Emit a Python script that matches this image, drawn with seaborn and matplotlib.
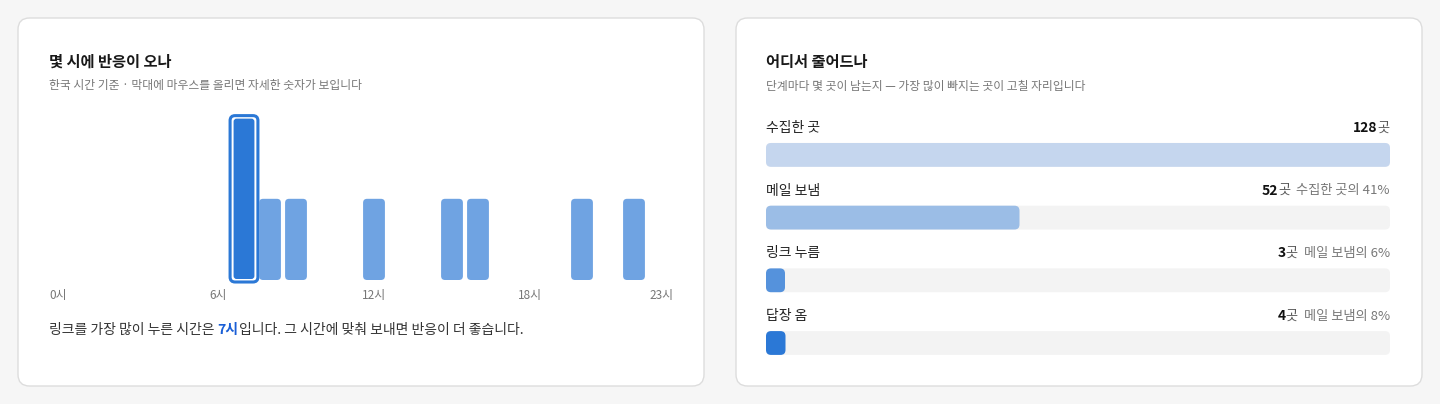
import matplotlib
matplotlib.use("Agg")
import matplotlib.pyplot as plt
import seaborn as sns
import pandas as pd
from matplotlib.patches import FancyBboxPatch
from matplotlib.transforms import IdentityTransform

sns.set_theme(style="white")
plt.rcParams['font.family'] = ['Noto Sans CJK KR', 'DejaVu Sans']

hours = list(range(24))
clicks = [0,0,0,0,0,0,0,2,1,1,0,0,1,0,0,1,1,0,0,0,1,0,1,0]
hour_ticks = [0, 6, 12, 18, 23]
peak_hour = 7

stages = ["수집한 곳", "메일 보냄", "링크 누름", "답장 옴"]
counts = [128, 52, 3, 4]
notes = ["", "수집한 곳의 41%", "메일 보냄의 6%", "메일 보냄의 8%"]
stage_colors = ["#c5d6ee", "#9bbde6", "#5592dc", "#2b78d6"]

W, H = 1440, 404
fig = plt.figure(figsize=(14.4, 4.04), dpi=100)
fig.patch.set_facecolor("#f6f6f6")
ident = IdentityTransform()

def px(x, y):
    return x / W, 1 - y / H

def card(x0, y0, x1, y1):
    fig.patches.append(FancyBboxPatch(px(x0, y1), (x1 - x0) / W, (y1 - y0) / H,
        boxstyle="round,pad=0,rounding_size=0.008", transform=fig.transFigure,
        facecolor="white", edgecolor="#dddddd", linewidth=1, mutation_aspect=W / H))

card(18, 18, 704, 386)
card(736, 18, 1422, 386)

def txt(x, y, s, **kw):
    fig.text(*px(x, y), s, va="center", **kw)

txt(49, 62, "몇 시에 반응이 오나", fontsize=11, fontweight="bold", color="#191919")
txt(49, 86, "한국 시간 기준 · 막대에 마우스를 올리면 자세한 숫자가 보입니다", fontsize=8.5, color="#777777")
txt(766, 62, "어디서 줄어드나", fontsize=11, fontweight="bold", color="#191919")
txt(766, 86, "단계마다 몇 곳이 남는지 — 가장 많이 빠지는 곳이 고칠 자리입니다", fontsize=8.5, color="#777777")

# ---- left: hourly bars
ax = fig.add_axes([49 / W, 1 - 280 / H, 624 / W, (280 - 116) / H])
df = pd.DataFrame({"hour": hours, "clicks": clicks})
sns.barplot(data=df, x="hour", y="clicks", ax=ax, color="#6fa3e2", width=0.84, saturation=1)
ax.set_xlim(-0.5, 23.5)
ax.set_ylim(0, max(clicks) * 1.01)
for s in ax.spines.values():
    s.set_visible(False)
ax.set_xticks([]); ax.set_yticks([]); ax.set_xlabel(""); ax.set_ylabel("")
ax.patch.set_alpha(0)
for h, v in zip(hours, clicks):
    if v == 0:
        ax.bar(h, 0.025, width=0.84, color="#e6e6e6", bottom=0)
fig.canvas.draw()
bars = [p for p in ax.patches][:24]
for h, p in zip(hours, bars):
    bb = p.get_window_extent()
    if clicks[h] == 0:
        p.set_visible(False)
        continue
    p.set_visible(False)
    if h == peak_hour:
        fig.patches.append(FancyBboxPatch((bb.x0 - 3, bb.y0 - 2), bb.width + 6, bb.height + 4,
            boxstyle="round,pad=0,rounding_size=5", transform=ident,
            facecolor="white", edgecolor="#2b78d6", linewidth=2.2))
        fig.patches.append(FancyBboxPatch((bb.x0 + 0.5, bb.y0 + 1), bb.width - 1, bb.height - 2,
            boxstyle="round,pad=0,rounding_size=3", transform=ident,
            facecolor="#2b78d6", edgecolor="none"))
    else:
        fig.patches.append(FancyBboxPatch((bb.x0, bb.y0), bb.width, bb.height,
            boxstyle="round,pad=0,rounding_size=4", transform=ident,
            facecolor="#6fa3e2", edgecolor="none"))
for i, t in enumerate(hour_ticks):
    ha = "left" if i == 0 else ("right" if t == 23 else "center")
    xd = ax.transData.transform((t - 0.5 if ha == "left" else (t + 0.5 if ha == "right" else t), 0))[0]
    txt(xd, 296, f"{t}시", fontsize=8.5, color="#777777", ha=ha)

fig.text(*px(49, 330), "링크를 가장 많이 누른 시간은 ", fontsize=10, color="#333333", va="center")
t1 = fig.text(*px(49, 330), "링크를 가장 많이 누른 시간은 ", fontsize=10, color="#333333", va="center", alpha=0)
fig.canvas.draw()
bb1 = t1.get_window_extent()
t2 = fig.text(bb1.x1 / W, 1 - 330 / H, f"{peak_hour}시", fontsize=10, fontweight="bold", color="#1a5fd6", va="center")
fig.canvas.draw()
bb2 = t2.get_window_extent()
fig.text(bb2.x1 / W, 1 - 330 / H, "입니다. 그 시간에 맞춰 보내면 반응이 더 좋습니다.", fontsize=10, color="#333333", va="center")

# ---- right: funnel
sp = 62.7
ax2 = fig.add_axes([766 / W, 1 - (343 + sp / 2) / H, 624 / W, 3 * sp / H + sp / H])
fdf = pd.DataFrame({"stage": stages, "count": counts})
sns.barplot(data=fdf, y="stage", x="count", ax=ax2, hue="stage", palette=stage_colors,
            legend=False, width=0.38, saturation=1, orient="h")
ax2.set_xlim(0, counts[0])
ax2.set_ylim(3.5, -0.5)
for s in ax2.spines.values():
    s.set_visible(False)
ax2.set_xticks([]); ax2.set_yticks([]); ax2.set_xlabel(""); ax2.set_ylabel("")
ax2.patch.set_alpha(0)
fig.canvas.draw()
minw = 19
for i, p in enumerate(list(ax2.patches)[:4]):
    bb = p.get_window_extent()
    p.set_visible(False)
    full = ax2.transData.transform((counts[0], 0))[0] - bb.x0
    fig.patches.append(FancyBboxPatch((bb.x0, bb.y0), full, bb.height,
        boxstyle="round,pad=0,rounding_size=5", transform=ident,
        facecolor="#f3f3f3", edgecolor="none"))
    fig.patches.append(FancyBboxPatch((bb.x0, bb.y0), max(bb.width, minw), bb.height,
        boxstyle="round,pad=0,rounding_size=5", transform=ident,
        facecolor=stage_colors[i], edgecolor="none"))
    ly = H - (bb.y0 + bb.y1) / 2 - 27
    txt(766, ly, stages[i], fontsize=10, color="#222222")
    xr = 1390
    if notes[i]:
        tn = fig.text(xr / W, 1 - ly / H, notes[i], fontsize=9.5, color="#777777", va="center", ha="right")
        fig.canvas.draw()
        xr = tn.get_window_extent().x0 - 6
    tu = fig.text(xr / W, 1 - ly / H, "곳", fontsize=9.5, color="#555555", va="center", ha="right")
    fig.canvas.draw()
    xu = tu.get_window_extent().x0
    fig.text(xu / W, 1 - ly / H, str(counts[i]), fontsize=10, fontweight="bold", color="#111111", va="center", ha="right")

fig.savefig("out.png", dpi=100, facecolor=fig.get_facecolor())
